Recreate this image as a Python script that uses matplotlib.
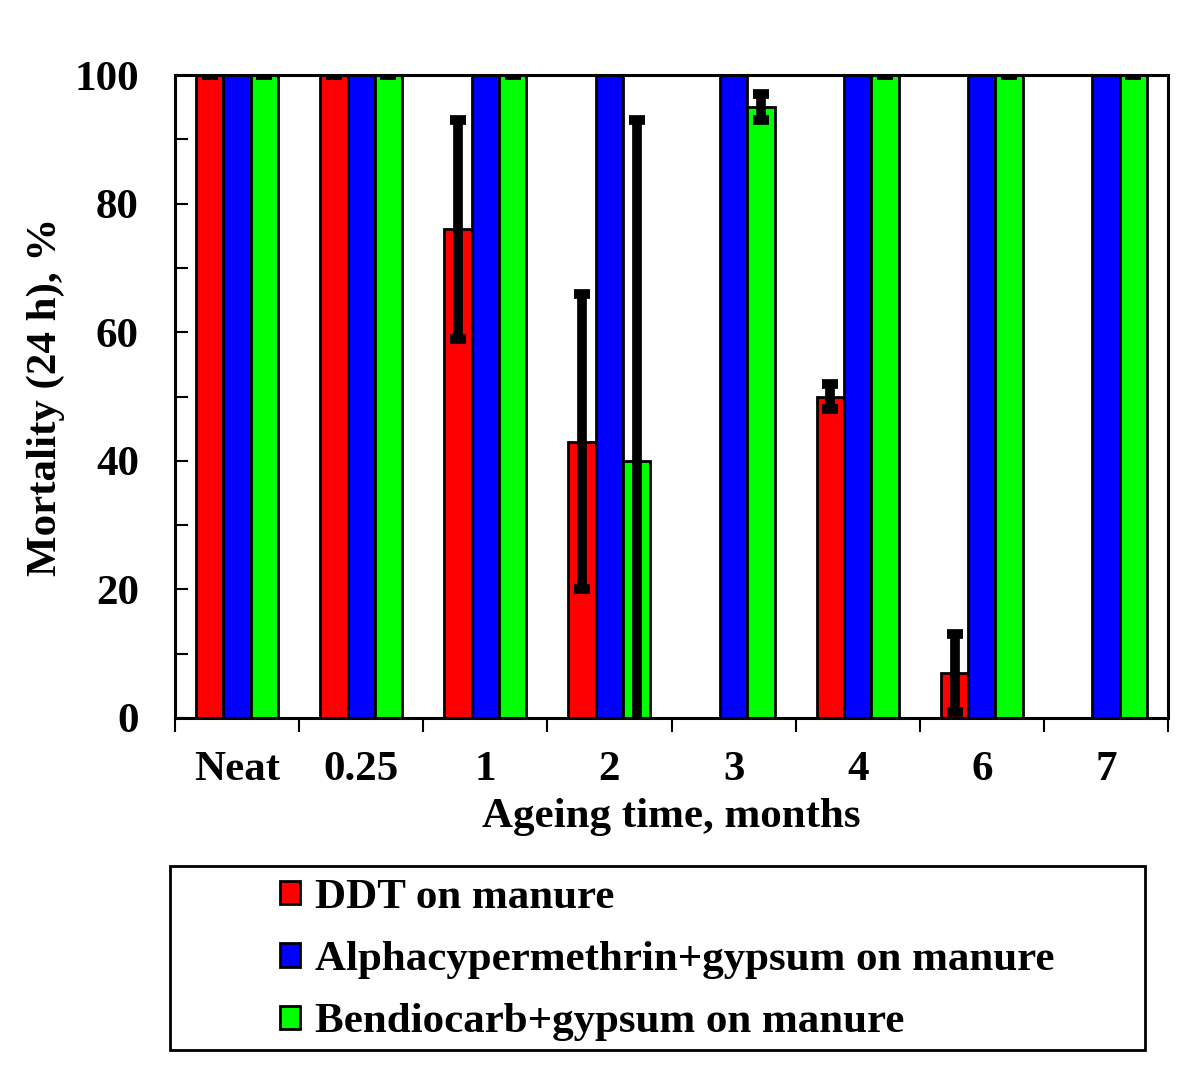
import numpy as np
import matplotlib
matplotlib.use('Agg')
import matplotlib.pyplot as plt
from matplotlib.patches import Rectangle

plt.rcParams['font.family'] = ['Liberation Serif', 'DejaVu Serif']
plt.rcParams['font.weight'] = 'bold'

categories = ['Neat', '0.25', '1', '2', '3', '4', '6', '7']
series_names = ['DDT on manure',
                'Alphacypermethrin+gypsum on manure',
                'Bendiocarb+gypsum on manure']
ddt = [100, 100, 76, 43, 0, 50, 7, 0]
ddt_err = [0, 0, 17, 23, 0, 2, 6, 0]
alpha = [100, 100, 100, 100, 100, 100, 100, 100]
bendio = [100, 100, 100, 40, 95, 100, 100, 100]
bendio_err = [0, 0, 0, 53, 2, 0, 0, 0]

colors = ['#ff0000', '#0000ff', '#00ff00']
fs = 31

fig = plt.figure(figsize=(12, 10.84), dpi=100)
ax = fig.add_axes([175/1200, 1 - 718/1084, (1168 - 175)/1200, (718 - 75)/1084])

x = np.arange(len(categories))
width = 0.22

ax.bar(x - width, ddt, width, color=colors[0], edgecolor='black', linewidth=2, label=series_names[0], zorder=2)
ax.bar(x, alpha, width, color=colors[1], edgecolor='black', linewidth=2, label=series_names[1], zorder=2)
ax.bar(x + width, bendio, width, color=colors[2], edgecolor='black', linewidth=2, label=series_names[2], zorder=2)

ebkw = dict(fmt='none', ecolor='black', elinewidth=7, capsize=5.5, capthick=7, zorder=3)
ddt_a = np.array(ddt)
m = ddt_a > 0
ax.errorbar((x - width)[m], ddt_a[m], yerr=np.array(ddt_err)[m], **ebkw)
ax.errorbar(x + width, bendio, yerr=bendio_err, **ebkw)

ax.set_xlim(-0.5, len(categories) - 0.5)
ax.set_ylim(0, 100)

# y ticks every 10 inside, labels every 20
ax.set_yticks(np.arange(0, 101, 10))
ax.set_yticklabels([str(v) if v % 20 == 0 else '' for v in range(0, 101, 10)])
ax.tick_params(axis='y', direction='in', length=9, width=1.5, labelsize=fs, pad=26)

# x ticks at group boundaries, labels at centres
ax.set_xticks(np.arange(-0.5, len(categories), 1.0))
ax.set_xticklabels([])
ax.set_xticks(x, minor=True)
ax.set_xticklabels(categories, minor=True)
ax.tick_params(axis='x', which='major', direction='out', length=10, width=1.5)
ax.tick_params(axis='x', which='minor', length=0, labelsize=fs, pad=24)

for s in ax.spines.values():
    s.set_linewidth(2.2)

ax.set_ylabel('Mortality (24 h), %', fontsize=fs, fontweight='bold', labelpad=7)
ax.set_xlabel('Ageing time, months', fontsize=fs, fontweight='bold', labelpad=6)

# legend box
fig.patches.append(Rectangle((170/1200, 1 - 1050/1084), (1145 - 170)/1200, (1050 - 866)/1084,
                             transform=fig.transFigure, fill=False, edgecolor='black', linewidth=2))
fig.legend(loc='upper left', bbox_to_anchor=(263/1200, 1 - 862/1084), frameon=False,
           fontsize=fs, handlelength=0.45, handleheight=0.45, handletextpad=0.35,
           labelspacing=0.56, borderaxespad=0)

fig.savefig('out.png', dpi=100)
